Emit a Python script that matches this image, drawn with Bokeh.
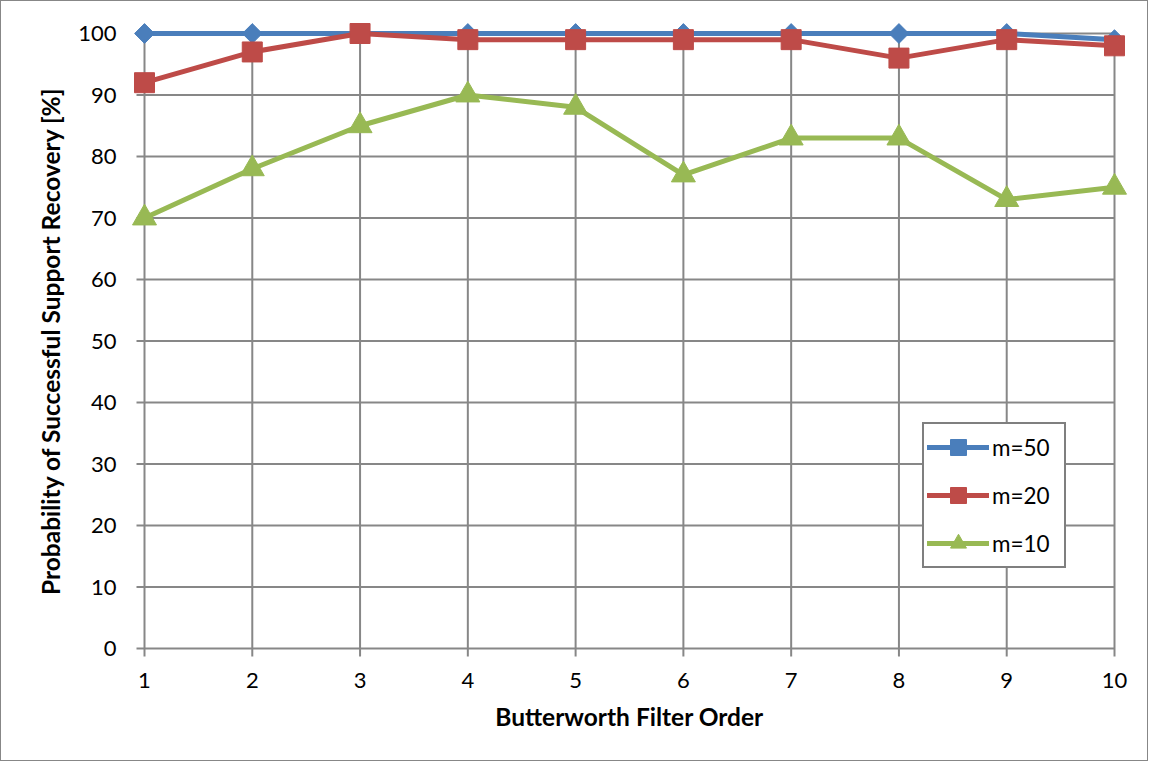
import math
from bokeh.plotting import figure
from bokeh.models import FixedTicker, Legend, LegendItem
from bokeh.embed import file_html
from bokeh.resources import INLINE

orders = [1, 2, 3, 4, 5, 6, 7, 8, 9, 10]
m50 = [100, 100, 100, 100, 100, 100, 100, 100, 100, 99]
m20 = [92, 97, 100, 99, 99, 99, 99, 96, 99, 98]
m10 = [70, 78, 85, 90, 88, 77, 83, 83, 73, 75]
y_ticks = [0, 10, 20, 30, 40, 50, 60, 70, 80, 90, 100]
labels = ["m=50", "m=20", "m=10"]
colors = ["#4A7EBB", "#BE4B48", "#98B954"]

FONT = "Lato"
GRID = "#878787"

# layout constants (pixels)
W, H = 1148, 761
AX_L, AX_R, AX_T, AX_B = 143, 1113, 32, 647        # where x=1, x=10, y=100, y=0 land
FR_L, FR_R, FR_T, FR_B = 116, 1140, 14, 665          # frame, a bit larger so markers are not clipped
TICK = 8

xmin, xmax = min(orders), max(orders)
ymin, ymax = min(y_ticks), max(y_ticks)
xu = (xmax - xmin) / (AX_R - AX_L)
yu = (ymax - ymin) / (AX_B - AX_T)
x_range = (xmin - (AX_L - FR_L) * xu, xmax + (FR_R - AX_R) * xu)
y_range = (ymin - (FR_B - AX_B) * yu, ymax + (AX_T - FR_T) * yu)

p = figure(width=W, height=H, output_backend="svg", toolbar_location=None,
           x_range=x_range, y_range=y_range,
           min_border_left=FR_L, min_border_right=W - FR_R,
           min_border_top=FR_T, min_border_bottom=H - FR_B)
p.styles = {"border": "1.5px solid #878787", "box-sizing": "border-box"}
p.outline_line_color = None
p.background_fill_color = "white"
p.xgrid.visible = False
p.ygrid.visible = False

# grid lines and tick marks, limited to the data extent, drawn beneath the series
nx, ny = len(orders), len(y_ticks)
p.segment(x0=orders, y0=[ymin - TICK * yu] * nx, x1=orders, y1=[ymax] * nx,
          line_color=GRID, line_width=2)
p.segment(x0=[xmin - TICK * xu] * ny, y0=y_ticks, x1=[xmax] * ny, y1=y_ticks,
          line_color=GRID, line_width=2)

for ax in (p.xaxis[0], p.yaxis[0]):
    ax.axis_line_color = None
    ax.major_tick_line_color = None
    ax.major_tick_out = 0
    ax.major_tick_in = 0
    ax.minor_tick_line_color = None
    ax.major_label_text_font = FONT
    ax.major_label_text_font_size = "22px"
    ax.major_label_text_color = "black"
    ax.axis_label_text_font = FONT
    ax.axis_label_text_font_size = "24.5px"
    ax.axis_label_text_font_style = "bold"
    ax.axis_label_text_color = "black"

p.xaxis.ticker = FixedTicker(ticks=orders)
p.yaxis.ticker = FixedTicker(ticks=y_ticks)
p.xaxis.axis_label = "Butterworth Filter Order"
p.yaxis.axis_label = "Probability of Successful Support Recovery [%]"
p.xaxis.major_label_standoff = 6
p.yaxis.major_label_standoff = 1
p.xaxis.axis_label_standoff = 11
p.yaxis.axis_label_standoff = 10

items = []
series = [m50, m20, m10]
markers = ["square", "square", "triangle"]
sizes = [14, 20, 24]
angles = [math.pi / 4, 0, 0]
for vals, lab, col, mk, sz, an in zip(series, labels, colors, markers, sizes, angles):
    r1 = p.line(orders, vals, line_color=col, line_width=5, line_join="round", line_cap="round")
    r2 = p.scatter(orders, vals, marker=mk, size=sz, angle=an, fill_color=col, line_color=col)
    items.append(LegendItem(label=lab, renderers=[r1, r2]))

legend = Legend(items=items, location=(921 - FR_L, FR_B - 567))
legend.border_line_color = "black"
legend.border_line_width = 2
legend.label_text_font = FONT
legend.label_text_font_size = "22.5px"
legend.label_text_color = "black"
legend.glyph_width = 62
legend.glyph_height = 40
legend.spacing = 8
legend.padding = 3
legend.margin = 0
legend.label_standoff = 3
legend.label_width = 69
legend.background_fill_alpha = 1
p.add_layout(legend, "center")

open("out.html", "w").write(file_html(p, INLINE))
